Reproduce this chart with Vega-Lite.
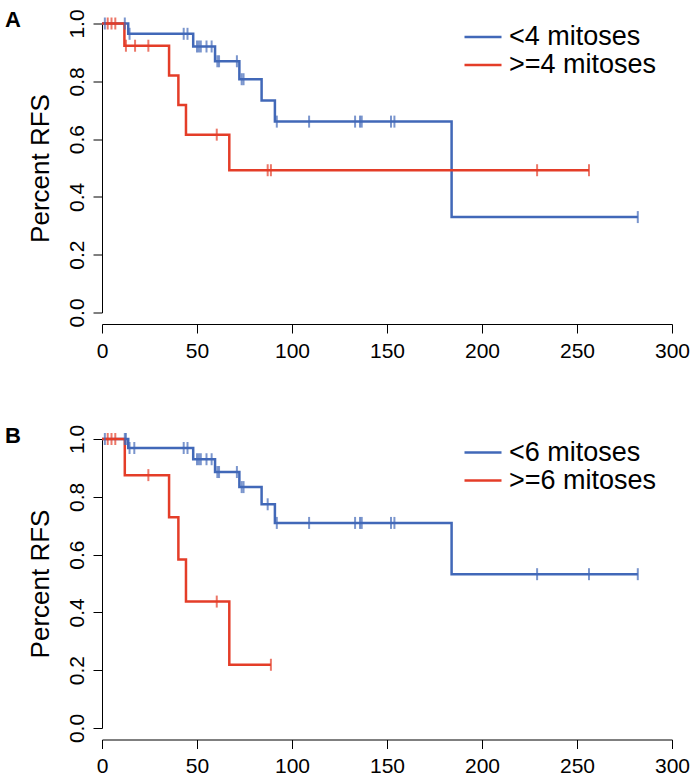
{
  "$schema": "https://vega.github.io/schema/vega-lite/v6.json",
  "background": "white",
  "padding": {"left": 5, "top": 8.5, "right": 0, "bottom": 0},
  "bounds": "flush",
  "spacing": 126.5,
  "config": {
    "view": {"stroke": null},
    "font": "Liberation Sans",
    "axis": {
      "grid": false,
      "domainColor": "black",
      "tickColor": "black",
      "labelColor": "black",
      "titleColor": "black",
      "labelFont": "Liberation Sans",
      "titleFont": "Liberation Sans",
      "labelFontSize": 21,
      "tickSize": 9,
      "domainWidth": 1,
      "tickWidth": 1,
      "labelFlush": false,
      "labelOverlap": false
    },
    "legend": {
      "title": null,
      "orient": "none",
      "legendX": 361,
      "legendY": 1,
      "symbolType": "stroke",
      "symbolSize": 1369,
      "symbolStrokeWidth": 2.5,
      "labelFontSize": 27,
      "labelFont": "Liberation Sans",
      "labelColor": "black",
      "clipHeight": 25,
      "rowPadding": 0,
      "labelOffset": 6,
      "padding": 0,
      "labelLimit": 300
    }
  },
  "datasets": {
    "lineA": [
      {"group": "<4 mitoses", "t": 0, "S": 1},
      {"group": "<4 mitoses", "t": 13.8, "S": 0.9643},
      {"group": "<4 mitoses", "t": 48, "S": 0.9205},
      {"group": "<4 mitoses", "t": 59.5, "S": 0.8693},
      {"group": "<4 mitoses", "t": 72.3, "S": 0.8072},
      {"group": "<4 mitoses", "t": 84, "S": 0.7339},
      {"group": "<4 mitoses", "t": 91, "S": 0.6605},
      {"group": "<4 mitoses", "t": 184, "S": 0.3302},
      {"group": "<4 mitoses", "t": 282, "S": 0.3302},
      {"group": ">=4 mitoses", "t": 0, "S": 1},
      {"group": ">=4 mitoses", "t": 11.8, "S": 0.9231},
      {"group": ">=4 mitoses", "t": 35.3, "S": 0.8205},
      {"group": ">=4 mitoses", "t": 40.2, "S": 0.7179},
      {"group": ">=4 mitoses", "t": 44.2, "S": 0.6154},
      {"group": ">=4 mitoses", "t": 67, "S": 0.4923},
      {"group": ">=4 mitoses", "t": 256.3, "S": 0.4923}
    ],
    "censA": [
      {"group": "<4 mitoses", "t": 1.5, "S": 1},
      {"group": "<4 mitoses", "t": 12, "S": 1},
      {"group": "<4 mitoses", "t": 14.5, "S": 0.9643},
      {"group": "<4 mitoses", "t": 43, "S": 0.9643},
      {"group": "<4 mitoses", "t": 45, "S": 0.9643},
      {"group": "<4 mitoses", "t": 50, "S": 0.9205},
      {"group": "<4 mitoses", "t": 51, "S": 0.9205},
      {"group": "<4 mitoses", "t": 52, "S": 0.9205},
      {"group": "<4 mitoses", "t": 55, "S": 0.9205},
      {"group": "<4 mitoses", "t": 57.7, "S": 0.9205},
      {"group": "<4 mitoses", "t": 60.7, "S": 0.8693},
      {"group": "<4 mitoses", "t": 61.6, "S": 0.8693},
      {"group": "<4 mitoses", "t": 71, "S": 0.8693},
      {"group": "<4 mitoses", "t": 73.5, "S": 0.8072},
      {"group": "<4 mitoses", "t": 74.5, "S": 0.8072},
      {"group": "<4 mitoses", "t": 92, "S": 0.6605},
      {"group": "<4 mitoses", "t": 109, "S": 0.6605},
      {"group": "<4 mitoses", "t": 133.2, "S": 0.6605},
      {"group": "<4 mitoses", "t": 135.8, "S": 0.6605},
      {"group": "<4 mitoses", "t": 136.7, "S": 0.6605},
      {"group": "<4 mitoses", "t": 152.1, "S": 0.6605},
      {"group": "<4 mitoses", "t": 153.9, "S": 0.6605},
      {"group": "<4 mitoses", "t": 282, "S": 0.3302},
      {"group": ">=4 mitoses", "t": 3, "S": 1},
      {"group": ">=4 mitoses", "t": 5, "S": 1},
      {"group": ">=4 mitoses", "t": 7, "S": 1},
      {"group": ">=4 mitoses", "t": 12.6, "S": 0.9231},
      {"group": ">=4 mitoses", "t": 17.4, "S": 0.9231},
      {"group": ">=4 mitoses", "t": 24.4, "S": 0.9231},
      {"group": ">=4 mitoses", "t": 60.4, "S": 0.6154},
      {"group": ">=4 mitoses", "t": 87.2, "S": 0.4923},
      {"group": ">=4 mitoses", "t": 88.9, "S": 0.4923},
      {"group": ">=4 mitoses", "t": 229, "S": 0.4923},
      {"group": ">=4 mitoses", "t": 256.3, "S": 0.4923}
    ],
    "lineB": [
      {"group": "<6 mitoses", "t": 0, "S": 1},
      {"group": "<6 mitoses", "t": 13.8, "S": 0.9688},
      {"group": "<6 mitoses", "t": 48, "S": 0.93},
      {"group": "<6 mitoses", "t": 59.5, "S": 0.8857},
      {"group": "<6 mitoses", "t": 72.3, "S": 0.8336},
      {"group": "<6 mitoses", "t": 84, "S": 0.7741},
      {"group": "<6 mitoses", "t": 91, "S": 0.7096},
      {"group": "<6 mitoses", "t": 184, "S": 0.5322},
      {"group": "<6 mitoses", "t": 282, "S": 0.5322},
      {"group": ">=6 mitoses", "t": 0, "S": 1},
      {"group": ">=6 mitoses", "t": 12, "S": 0.875},
      {"group": ">=6 mitoses", "t": 35.3, "S": 0.7292},
      {"group": ">=6 mitoses", "t": 40.2, "S": 0.5833},
      {"group": ">=6 mitoses", "t": 44.2, "S": 0.4375},
      {"group": ">=6 mitoses", "t": 67, "S": 0.2188},
      {"group": ">=6 mitoses", "t": 88.9, "S": 0.2188}
    ],
    "censB": [
      {"group": "<6 mitoses", "t": 1.5, "S": 1},
      {"group": "<6 mitoses", "t": 12, "S": 1},
      {"group": "<6 mitoses", "t": 12.6, "S": 1},
      {"group": "<6 mitoses", "t": 14.5, "S": 0.9688},
      {"group": "<6 mitoses", "t": 17, "S": 0.9688},
      {"group": "<6 mitoses", "t": 43, "S": 0.9688},
      {"group": "<6 mitoses", "t": 45, "S": 0.9688},
      {"group": "<6 mitoses", "t": 50, "S": 0.93},
      {"group": "<6 mitoses", "t": 51, "S": 0.93},
      {"group": "<6 mitoses", "t": 52, "S": 0.93},
      {"group": "<6 mitoses", "t": 55, "S": 0.93},
      {"group": "<6 mitoses", "t": 57.7, "S": 0.93},
      {"group": "<6 mitoses", "t": 60.7, "S": 0.8857},
      {"group": "<6 mitoses", "t": 61.6, "S": 0.8857},
      {"group": "<6 mitoses", "t": 71, "S": 0.8857},
      {"group": "<6 mitoses", "t": 73.5, "S": 0.8336},
      {"group": "<6 mitoses", "t": 74.5, "S": 0.8336},
      {"group": "<6 mitoses", "t": 87.2, "S": 0.7741},
      {"group": "<6 mitoses", "t": 92, "S": 0.7096},
      {"group": "<6 mitoses", "t": 109, "S": 0.7096},
      {"group": "<6 mitoses", "t": 133.2, "S": 0.7096},
      {"group": "<6 mitoses", "t": 135.8, "S": 0.7096},
      {"group": "<6 mitoses", "t": 136.7, "S": 0.7096},
      {"group": "<6 mitoses", "t": 152.1, "S": 0.7096},
      {"group": "<6 mitoses", "t": 153.9, "S": 0.7096},
      {"group": "<6 mitoses", "t": 229, "S": 0.5322},
      {"group": "<6 mitoses", "t": 256.3, "S": 0.5322},
      {"group": "<6 mitoses", "t": 282, "S": 0.5322},
      {"group": ">=6 mitoses", "t": 3, "S": 1},
      {"group": ">=6 mitoses", "t": 5, "S": 1},
      {"group": ">=6 mitoses", "t": 7, "S": 1},
      {"group": ">=6 mitoses", "t": 24.4, "S": 0.875},
      {"group": ">=6 mitoses", "t": 60.4, "S": 0.4375},
      {"group": ">=6 mitoses", "t": 88.9, "S": 0.2188}
    ]
  },
  "resolve": {"scale": {"color": "independent"}, "legend": {"color": "independent"}},
  "vconcat": [
    {
      "title": {"text": "A", "anchor": "start", "frame": "group", "dx": -97, "dy": 8, "offset": -32.5, "baseline": "alphabetic", "fontSize": 22, "fontWeight": "bold", "font": "Liberation Sans", "color": "black"},
      "width": 570,
      "height": 289,
      "layer": [
        {
          "data": {"name": "lineA"},
          "mark": {"type": "line", "interpolate": "step-after", "strokeWidth": 2.5},
          "encoding": {
            "x": {"field": "t", "type": "quantitative", "scale": {"domain": [0, 300], "nice": false, "zero": false},
                  "axis": {"values": [0, 50, 100, 150, 200, 250, 300], "title": null, "offset": 11.5, "labelPadding": 7}},
            "y": {"field": "S", "type": "quantitative", "scale": {"domain": [0, 1], "nice": false},
                  "axis": {"values": [0, 0.2, 0.4, 0.6, 0.8, 1], "format": ".1f", "labelAngle": 270, "labelAlign": "center", "labelBaseline": "alphabetic", "labelPadding": 10, "title": "Percent RFS", "titleFontSize": 26, "titleFontWeight": "normal", "titlePadding": 13}},
            "color": {"field": "group", "type": "nominal",
                      "scale": {"domain": ["<4 mitoses", ">=4 mitoses"], "range": ["#4168B8", "#E43D28"]},
                      "legend": {}}
          }
        },
        {
          "data": {"name": "censA"},
          "mark": {"type": "tick", "orient": "vertical", "size": 12, "thickness": 2},
          "encoding": {
            "x": {"field": "t", "type": "quantitative"},
            "y": {"field": "S", "type": "quantitative"},
            "color": {"field": "group", "type": "nominal", "legend": null}
          }
        }
      ]
    },
    {
      "title": {"text": "B", "anchor": "start", "frame": "group", "dx": -97, "dy": 8, "offset": -32.5, "baseline": "alphabetic", "fontSize": 22, "fontWeight": "bold", "font": "Liberation Sans", "color": "black"},
      "width": 570,
      "height": 289,
      "layer": [
        {
          "data": {"name": "lineB"},
          "mark": {"type": "line", "interpolate": "step-after", "strokeWidth": 2.5},
          "encoding": {
            "x": {"field": "t", "type": "quantitative", "scale": {"domain": [0, 300], "nice": false, "zero": false},
                  "axis": {"values": [0, 50, 100, 150, 200, 250, 300], "title": null, "offset": 11.5, "labelPadding": 7}},
            "y": {"field": "S", "type": "quantitative", "scale": {"domain": [0, 1], "nice": false},
                  "axis": {"values": [0, 0.2, 0.4, 0.6, 0.8, 1], "format": ".1f", "labelAngle": 270, "labelAlign": "center", "labelBaseline": "alphabetic", "labelPadding": 10, "title": "Percent RFS", "titleFontSize": 26, "titleFontWeight": "normal", "titlePadding": 13}},
            "color": {"field": "group", "type": "nominal",
                      "scale": {"domain": ["<6 mitoses", ">=6 mitoses"], "range": ["#4168B8", "#E43D28"]},
                      "legend": {}}
          }
        },
        {
          "data": {"name": "censB"},
          "mark": {"type": "tick", "orient": "vertical", "size": 12, "thickness": 2},
          "encoding": {
            "x": {"field": "t", "type": "quantitative"},
            "y": {"field": "S", "type": "quantitative"},
            "color": {"field": "group", "type": "nominal", "legend": null}
          }
        }
      ]
    }
  ]
}
